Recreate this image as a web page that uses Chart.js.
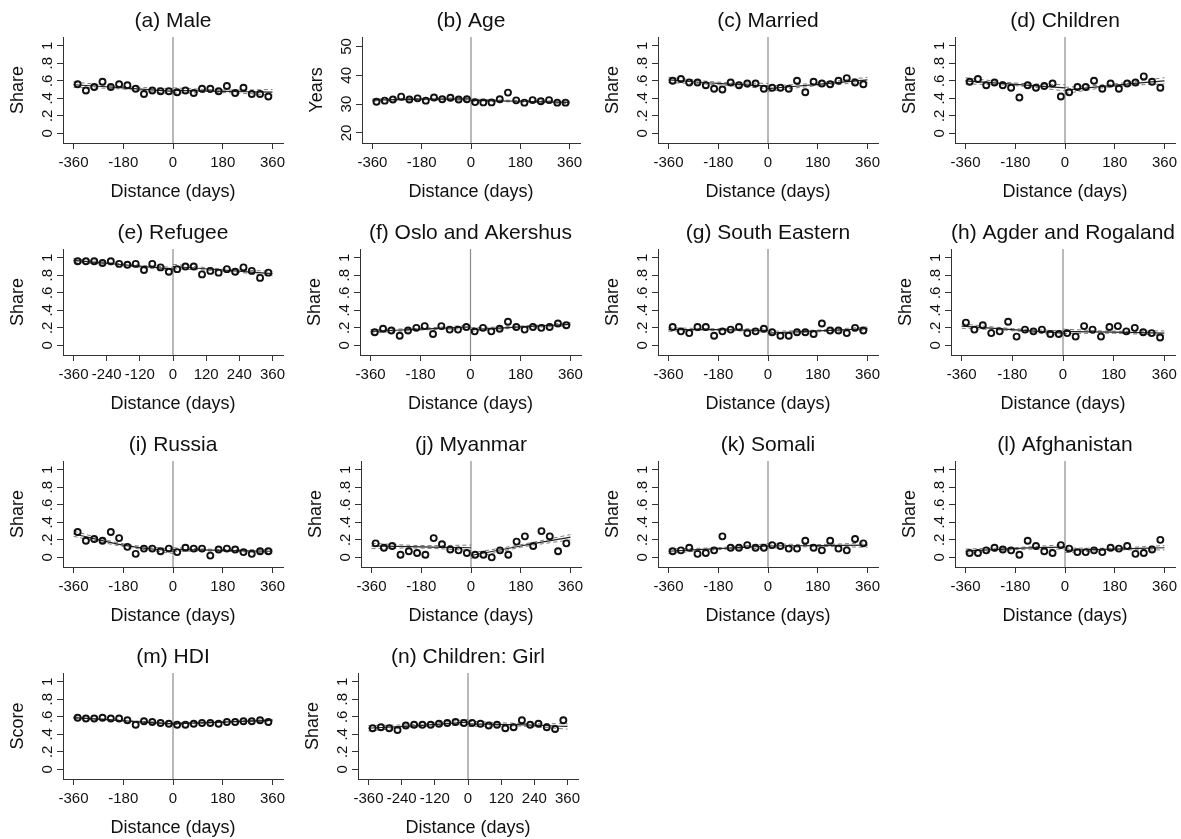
<!DOCTYPE html>
<html><head><meta charset="utf-8">
<script src="https://cdn.jsdelivr.net/npm/chart.js@4.4.1/dist/chart.umd.min.js"></script>
<style>
html,body{margin:0;padding:0;background:#fff;overflow:hidden;width:1181px;height:839px;position:relative}
canvas{position:absolute}
</style>
</head><body>
<script>
// ---------- DATA ----------
const binX = [-345,-315,-285,-255,-225,-195,-165,-135,-105,-75,-45,-15,15,45,75,105,135,165,195,225,255,285,315,345];
const fitXLeft = [-360,-180,0];
const fitXRight = [0,180,360];
const ticks180 = [-360,-180,0,180,360];
const ticks120 = [-360,-240,-120,0,120,240,360];
const shareTicks = [0,0.2,0.4,0.6,0.8,1];
const ageTicks = [20,30,40,50];

const maleY = [0.56,0.49,0.53,0.59,0.53,0.56,0.55,0.51,0.45,0.49,0.48,0.48,0.47,0.49,0.46,0.51,0.51,0.48,0.54,0.46,0.52,0.45,0.45,0.42];
const maleFit = [0.555,0.52,0.48, 0.49,0.48,0.47];
const maleCI = [0.03,0.015,0.03, 0.03,0.015,0.03];

const ageY = [30.8,31.2,31.6,32.6,31.6,32.0,31.2,32.3,31.7,32.2,31.6,31.7,30.7,30.6,30.6,31.7,34.0,31.3,30.5,31.4,31.0,31.4,30.5,30.5];
const ageFit = [31.4,31.7,31.8, 31.3,31.0,30.6];
const ageCI = [0.4,0.25,0.45, 0.45,0.25,0.45];

const marriedY = [0.60,0.62,0.58,0.58,0.55,0.51,0.50,0.58,0.55,0.57,0.57,0.51,0.52,0.52,0.51,0.60,0.47,0.59,0.57,0.56,0.60,0.63,0.58,0.56];
const marriedFit = [0.61,0.57,0.54, 0.51,0.56,0.61];
const marriedCI = [0.03,0.015,0.03, 0.03,0.015,0.03];

const childrenY = [0.59,0.62,0.55,0.58,0.55,0.52,0.41,0.55,0.52,0.54,0.57,0.42,0.47,0.53,0.53,0.60,0.51,0.57,0.51,0.57,0.58,0.65,0.59,0.52];
const childrenFit = [0.60,0.56,0.52, 0.49,0.55,0.60];
const childrenCI = [0.035,0.015,0.035, 0.035,0.015,0.035];

const refugeeY = [0.96,0.96,0.96,0.94,0.96,0.93,0.92,0.93,0.86,0.93,0.89,0.84,0.87,0.90,0.90,0.81,0.85,0.83,0.87,0.84,0.89,0.85,0.77,0.83];
const refugeeFit = [0.97,0.92,0.87, 0.90,0.86,0.82];
const refugeeCI = [0.02,0.01,0.02, 0.025,0.012,0.025];

const osloY = [0.15,0.19,0.17,0.11,0.17,0.20,0.22,0.13,0.22,0.18,0.18,0.21,0.16,0.20,0.16,0.19,0.27,0.21,0.18,0.21,0.20,0.21,0.25,0.23];
const osloFit = [0.16,0.185,0.21, 0.18,0.21,0.24];
const osloCI = [0.02,0.01,0.02, 0.02,0.01,0.02];

const southEastY = [0.21,0.16,0.14,0.21,0.21,0.11,0.16,0.18,0.21,0.14,0.16,0.19,0.15,0.11,0.11,0.15,0.15,0.13,0.25,0.17,0.17,0.14,0.20,0.17];
const southEastFit = [0.18,0.18,0.17, 0.14,0.165,0.19];
const southEastCI = [0.02,0.01,0.02, 0.02,0.01,0.02];

const agderY = [0.26,0.18,0.23,0.14,0.16,0.27,0.10,0.18,0.16,0.18,0.13,0.13,0.14,0.10,0.22,0.18,0.10,0.21,0.22,0.16,0.20,0.15,0.14,0.09];
const agderFit = [0.22,0.18,0.14, 0.16,0.15,0.14];
const agderCI = [0.025,0.012,0.025, 0.025,0.012,0.025];

const russiaY = [0.29,0.19,0.21,0.19,0.29,0.22,0.12,0.04,0.10,0.10,0.07,0.10,0.06,0.11,0.10,0.10,0.02,0.09,0.10,0.09,0.06,0.04,0.07,0.07];
const russiaFit = [0.27,0.14,0.07, 0.09,0.08,0.07];
const russiaCI = [0.03,0.015,0.025, 0.02,0.01,0.02];

const myanmarY = [0.16,0.11,0.13,0.03,0.07,0.05,0.03,0.22,0.15,0.09,0.08,0.05,0.03,0.03,0.00,0.08,0.03,0.18,0.24,0.13,0.30,0.24,0.07,0.16];
const myanmarFit = [0.13,0.12,0.11, 0.02,0.13,0.23];
const myanmarCI = [0.03,0.015,0.03, 0.03,0.015,0.03];

const somaliY = [0.07,0.08,0.11,0.04,0.05,0.08,0.24,0.11,0.11,0.14,0.11,0.11,0.14,0.13,0.10,0.10,0.19,0.11,0.08,0.19,0.10,0.08,0.21,0.16];
const somaliFit = [0.07,0.10,0.13, 0.13,0.135,0.14];
const somaliCI = [0.025,0.012,0.025, 0.025,0.012,0.025];

const afghanY = [0.05,0.05,0.08,0.11,0.09,0.08,0.03,0.19,0.13,0.07,0.05,0.14,0.10,0.06,0.06,0.08,0.06,0.11,0.10,0.13,0.04,0.05,0.09,0.20];
const afghanFit = [0.07,0.10,0.12, 0.08,0.095,0.11];
const afghanCI = [0.025,0.012,0.025, 0.025,0.012,0.025];

const hdiY = [0.59,0.58,0.58,0.59,0.58,0.58,0.56,0.51,0.55,0.54,0.53,0.52,0.51,0.51,0.52,0.53,0.53,0.52,0.54,0.54,0.55,0.55,0.56,0.54];
const hdiFit = [0.59,0.555,0.52, 0.52,0.54,0.56];
const hdiCI = [0.01,0.005,0.01, 0.01,0.005,0.01];

const girlY = [0.47,0.48,0.47,0.45,0.50,0.51,0.51,0.51,0.52,0.53,0.54,0.53,0.53,0.52,0.50,0.51,0.47,0.48,0.56,0.51,0.52,0.48,0.46,0.56];
const girlFit = [0.47,0.50,0.54, 0.52,0.51,0.49];
const girlCI = [0.03,0.015,0.03, 0.03,0.015,0.03];

const titles = ['(a) Male','(b) Age','(c) Married','(d) Children','(e) Refugee','(f) Oslo and Akershus','(g) South Eastern','(h) Agder and Rogaland','(i) Russia','(j) Myanmar','(k) Somali','(l) Afghanistan','(m) HDI','(n) Children: Girl'];
const yLabels = ['Share','Years','Share','Share','Share','Share','Share','Share','Share','Share','Share','Share','Score','Share'];
const xLabel = 'Distance (days)';

// ---------- LAYOUT ----------
const FONT = '"Liberation Sans", Arial, Helvetica, sans-serif';
const rowTops = [0,212,424,636];
const shareRange = [-0.11,1.10];
const ageRange = [16.5,53.3];
const xRange = [-398,398];
const panels = [
  {t:0,  y:maleY, fit:maleFit, ci:maleCI, row:0, left:63, right:283, xt:ticks180},
  {t:1,  y:ageY, fit:ageFit, ci:ageCI, row:0, left:362, right:580, xt:ticks180, age:true},
  {t:2,  y:marriedY, fit:marriedFit, ci:marriedCI, row:0, left:658, right:878, xt:ticks180},
  {t:3,  y:childrenY, fit:childrenFit, ci:childrenCI, row:0, left:955, right:1175, xt:ticks180},
  {t:4,  y:refugeeY, fit:refugeeFit, ci:refugeeCI, row:1, left:63, right:283, xt:ticks120},
  {t:5,  y:osloY, fit:osloFit, ci:osloCI, row:1, left:360, right:581, xt:ticks180},
  {t:6,  y:southEastY, fit:southEastFit, ci:southEastCI, row:1, left:658, right:878, xt:ticks180},
  {t:7,  y:agderY, fit:agderFit, ci:agderCI, row:1, left:951, right:1175, xt:ticks180},
  {t:8,  y:russiaY, fit:russiaFit, ci:russiaCI, row:2, left:63, right:283, xt:ticks180},
  {t:9,  y:myanmarY, fit:myanmarFit, ci:myanmarCI, row:2, left:361, right:581, xt:ticks180},
  {t:10, y:somaliY, fit:somaliFit, ci:somaliCI, row:2, left:658, right:878, xt:ticks180},
  {t:11, y:afghanY, fit:afghanFit, ci:afghanCI, row:2, left:955, right:1175, xt:ticks180},
  {t:12, y:hdiY, fit:hdiFit, ci:hdiCI, row:3, left:63, right:283, xt:ticks180},
  {t:13, y:girlY, fit:girlFit, ci:girlCI, row:3, left:358, right:578, xt:ticks120}
];

const measureCtx = document.createElement('canvas').getContext('2d');
function fmtY(v){
  if (v === 0) return '0';
  if (v === 1) return '1';
  if (Math.abs(v) < 1) return String(v).replace(/^0\./,'.').replace(/^-0\./,'-.');
  return String(v);
}

const H = 212, PLOT_TOP = 37, PLOT_BOTTOM = 143, YAXIS_W = 63, PAD_R = 16;
const TICK_SIZE = 15, AXT_SIZE = 18, TITLE_SIZE = 21, TL = 6;

function pts(xs, ys){ return xs.map((x,i)=>({x:x, y:ys[i]})); }

function makePanel(p){
  const canvasLeft = p.left - YAXIS_W;
  const W = p.right - canvasLeft + PAD_R;
  const cv = document.createElement('canvas');
  cv.width = W; cv.height = H;
  cv.style.left = canvasLeft + 'px'; cv.style.top = rowTops[p.row] + 'px';
  cv.style.width = W + 'px'; cv.style.height = H + 'px';
  document.body.appendChild(cv);

  const yt = p.age ? ageTicks : shareTicks;
  const yr = p.age ? ageRange : shareRange;
  measureCtx.font = TICK_SIZE + 'px ' + FONT;
  const widest = Math.max(...yt.map(v => measureCtx.measureText(fmtY(v)).width));
  const yPad = Math.max(0, 9 - widest/2);

  const fL = p.fit.slice(0,3), fR = p.fit.slice(3,6);
  const cL = p.ci.slice(0,3), cR = p.ci.slice(3,6);
  const lo = (f,c) => f.map((v,i)=> v - c[i]);
  const hi = (f,c) => f.map((v,i)=> v + c[i]);
  const dashStyle = {type:'line', borderColor:'#7a7a7a', borderWidth:1, borderDash:[4,3], pointRadius:0, fill:false, tension:0.4};
  const fitStyle = {type:'line', borderColor:'#222', borderWidth:1.2, pointRadius:0, fill:false, tension:0.4};

  new Chart(cv, {
    type:'scatter',
    data:{datasets:[
      {type:'scatter', data: pts(binX, p.y), pointStyle:'circle', pointRadius:3, borderWidth:1.9, borderColor:'#111', backgroundColor:'rgba(0,0,0,0)'},
      Object.assign({data: pts(fitXLeft, fL)}, fitStyle),
      Object.assign({data: pts(fitXRight, fR)}, fitStyle),
      Object.assign({data: pts(fitXLeft, lo(fL,cL))}, dashStyle),
      Object.assign({data: pts(fitXLeft, hi(fL,cL))}, dashStyle),
      Object.assign({data: pts(fitXRight, lo(fR,cR))}, dashStyle),
      Object.assign({data: pts(fitXRight, hi(fR,cR))}, dashStyle),
      {type:'line', data:[{x:0,y:yr[0]},{x:0,y:yr[1]}], borderColor:'#8a8a8a', borderWidth:1.2, pointRadius:0, fill:false}
    ]},
    options:{
      responsive:false, animation:false, devicePixelRatio:1,
      layout:{padding:{left:0, right:PAD_R, top:0, bottom:0}},
      plugins:{
        legend:{display:false}, tooltip:{enabled:false},
        title:{display:true, text:titles[p.t], fullSize:false, color:'#111',
          font:{family:FONT, size:TITLE_SIZE, weight:'normal', lineHeight:1.2},
          padding:{top:8.4, bottom:3.4}}
      },
      scales:{
        x:{type:'linear', min:xRange[0], max:xRange[1],
          afterBuildTicks: s => { s.ticks = p.xt.map(v=>({value:v})); },
          afterFit: s => { s.height = H - PLOT_BOTTOM; },
          ticks:{color:'#111', font:{family:FONT, size:TICK_SIZE, lineHeight:1.2}, padding:5, maxRotation:0, minRotation:0, autoSkip:false,
            callback: v => String(v)},
          grid:{display:true, drawOnChartArea:false, drawTicks:true, tickLength:TL, color:'#333', lineWidth:1},
          border:{display:true, color:'#333', width:1},
          title:{display:true, text:xLabel, color:'#111', font:{family:FONT, size:AXT_SIZE, lineHeight:1.2}, padding:{top:0, bottom:9.2}}
        },
        y:{type:'linear', min:yr[0], max:yr[1],
          afterBuildTicks: s => { s.ticks = yt.map(v=>({value:v})); },
          afterFit: s => { s.width = YAXIS_W; },
          ticks:{color:'#111', font:{family:FONT, size:TICK_SIZE, lineHeight:1.2}, padding:yPad, minRotation:90, maxRotation:90, crossAlign:'center', autoSkip:false,
            callback: v => fmtY(v)},
          grid:{display:true, drawOnChartArea:false, drawTicks:true, tickLength:TL, color:'#333', lineWidth:1},
          border:{display:true, color:'#333', width:1},
          title:{display:true, text:yLabels[p.t], color:'#111', font:{family:FONT, size:AXT_SIZE, lineHeight:1.2}, padding:{top:7.2, bottom:0}}
        }
      }
    }
  });
}
panels.forEach(makePanel);
</script>
</body></html>
